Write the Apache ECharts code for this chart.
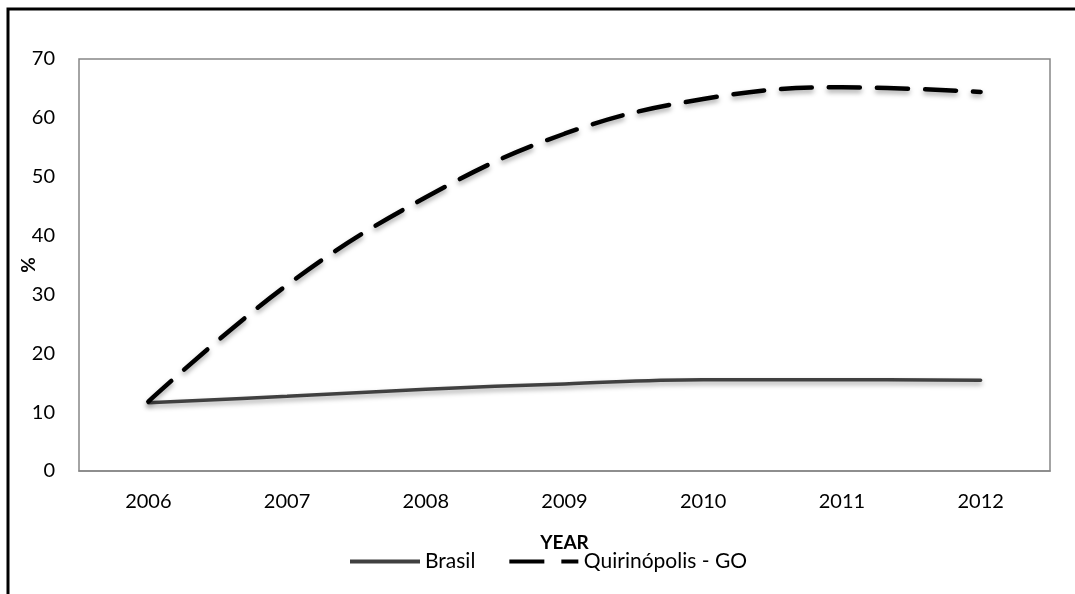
<!DOCTYPE html>
<html>
<head>
<meta charset="utf-8">
<script src="https://cdn.jsdelivr.net/npm/echarts@6/dist/echarts.min.js"></script>
<style>
    html, body { margin: 0; padding: 0; background: #fff; }
    #chart { width: 1075px; height: 594px; }
</style>
</head>
<body>
<div id="chart"></div>
<script>
// values
var years = ['2006', '2007', '2008', '2009', '2010', '2011', '2012'];
var brasil = [11.6, 12.7, 13.9, 14.8, 15.5, 15.5, 15.4];
var quirinopolis = [11.8, 31.6, 46.5, 57.3, 63.2, 65.2, 64.4];

var font = 'Lato, "Open Sans", sans-serif';
var chart = echarts.init(document.getElementById('chart'));

chart.setOption({
    animation: false,
    backgroundColor: '#fff',
    textStyle: { fontFamily: font },
    graphic: [{
        type: 'rect',
        shape: { x: 8, y: 9, width: 1200, height: 700 },
        style: { fill: 'none', stroke: '#000', lineWidth: 3 },
        silent: true
    }],
    grid: {
        left: 79,
        right: 25,
        top: 59,
        bottom: 123,
        outerBoundsMode: 'none',
        containLabel: false,
        show: true,
        borderColor: '#868686',
        borderWidth: 1.5
    },
    legend: {
        left: 345,
        top: 546,
        itemWidth: 70,
        itemHeight: 4,
        itemGap: 34,
        textStyle: { fontFamily: font, fontSize: 21, color: '#000' },
        data: [
            { name: 'Brasil', icon: 'rect', itemStyle: { color: '#404040' } },
            { name: 'Quirinópolis - GO', icon: 'path://M0,0H35V4H0Z M52,0H69V4H52Z', itemStyle: { color: '#000' } }
        ]
    },
    xAxis: {
        type: 'category',
        data: years,
        boundaryGap: true,
        name: 'YEAR',
        nameLocation: 'middle',
        nameGap: 62,
        nameMoveOverlap: false,
        nameTextStyle: { fontFamily: font, fontSize: 19, fontWeight: 'bold', color: '#000' },
        axisLine: { show: true, lineStyle: { color: '#868686', width: 1.5 } },
        axisTick: { show: false },
        axisLabel: { fontSize: 20, color: '#000', margin: 21 },
        splitLine: { show: false }
    },
    yAxis: {
        type: 'value',
        min: 0,
        max: 70,
        interval: 10,
        name: '%',
        nameLocation: 'middle',
        nameGap: 41,
        nameMoveOverlap: false,
        nameTextStyle: { fontFamily: font, fontSize: 19, fontWeight: 'bold', color: '#000' },
        axisLine: { show: false },
        axisTick: { show: false },
        axisLabel: { fontSize: 20, color: '#000', margin: 24 },
        splitLine: { show: false }
    },
    series: [{
        name: 'Brasil',
        type: 'line',
        data: brasil,
        smooth: 0.4,
        symbol: 'none',
        itemStyle: { color: '#404040' },
        lineStyle: {
            color: '#404040',
            width: 3.5,
            cap: 'round',
            shadowColor: 'rgba(0,0,0,0.35)',
            shadowBlur: 5,
            shadowOffsetY: 3
        }
    }, {
        name: 'Quirinópolis - GO',
        type: 'line',
        data: quirinopolis,
        smooth: 0.4,
        symbol: 'none',
        itemStyle: { color: '#000' },
        lineStyle: {
            color: '#000',
            width: 4.5,
            type: [31, 17],
            cap: 'round',
            shadowColor: 'rgba(0,0,0,0.35)',
            shadowBlur: 5,
            shadowOffsetY: 3
        }
    }]
});
</script>
</body>
</html>
